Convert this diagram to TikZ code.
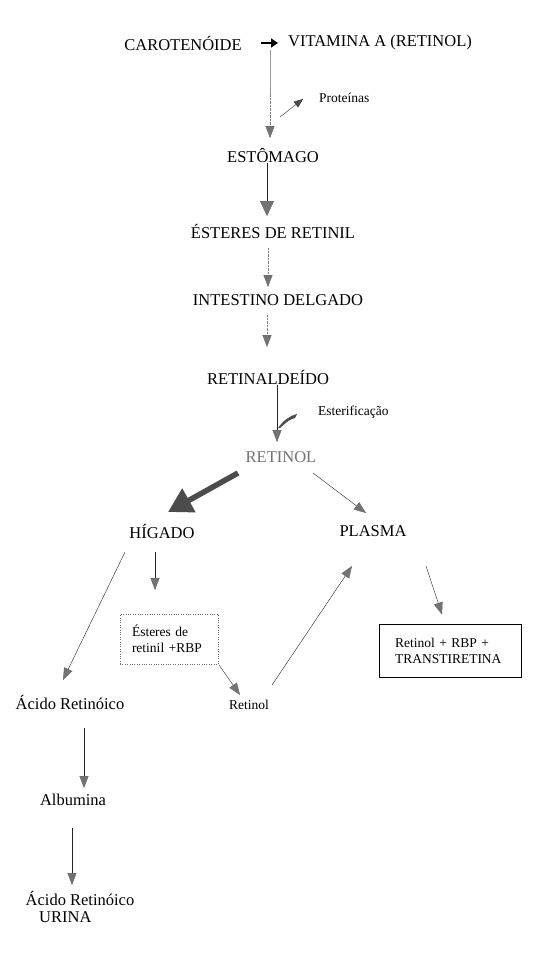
\documentclass[tikz,border=0pt]{standalone}
\usepackage{fontspec}
\setmainfont{Liberation Serif}
\usetikzlibrary{arrows.meta}
\tikzset{
  big/.style={inner sep=0pt, font=\fontsize{16.5}{19}\selectfont},
  small/.style={inner sep=0pt, font=\fontsize{13.5}{16}\selectfont},
  flow/.style={draw=black!85, -{Triangle[width=9pt,length=12pt,fill=black!55,color=black!60]}},
  dotflow/.style={flow, draw=black!50, densely dotted},
  note/.style={small, draw, align=left, inner ysep=5pt}
}
\begin{document}
\begin{tikzpicture}[x=1pt,y=-1pt]
    \useasboundingbox[fill=white] (0,0) rectangle (548,953);
    % top of the chain
    \node[big] (carot) at (183,43) {CAROTENÓIDE};
    \node[big] (vita) at (380,43) {VITAMINA A (RETINOL)};
    \draw[line width=2.4pt, -{Triangle[width=9pt,length=7pt]}] ([xshift=78]carot.center) -- ([xshift=-102]vita.center);
    \node[big] (estom) at (273,155) {ESTÔMAGO};
    \coordinate (mid1) at (270,95);
    \draw[draw=black!40] ([xshift=-110,yshift=-7]vita.center) -- (mid1);
    \draw[dotflow] (mid1) -- ([xshift=-3,yshift=17]estom.center);
    \node[small, anchor=west] (prot) at (319,98) {Proteínas};
    \coordinate (p0) at (280,117);
    \draw[flow, -{Triangle[width=7pt,length=9pt,fill=black!70]}] (p0) -- ([xshift=-16,yshift=-1]prot.west);
    \node[big] (ester) at (273,231) {ÉSTERES DE RETINIL};
    \draw[flow, -{Triangle[width=14pt,length=15pt,fill=black!55,color=black!60]}] ([xshift=-6,yshift=-8]estom.center) -- ([xshift=-6,yshift=15]ester.center);
    \node[big] (intest) at (278,300) {INTESTINO DELGADO};
    \draw[dotflow] ([xshift=-5,yshift=-17]ester.center) -- ([xshift=-10,yshift=13]intest.center);
    \node[big] (retald) at (268,377) {RETINALDEÍDO};
    \draw[dotflow] ([xshift=-11,yshift=-15]intest.center) -- ([xshift=-1,yshift=30]retald.center);
    \node[big, text=black!55] (retinol) at (281,457) {RETINOL};
    \draw[flow] ([xshift=9,yshift=-8]retald.center) -- ([xshift=-4,yshift=15]retinol.center);
    \node[small, anchor=west] (esterif) at (318,412) {Esterificação};
    \fill[black!70] (278,428) .. controls (283,421) and (289,416) .. (297,414) -- (295,418) .. controls (289,420) .. (280,428) -- cycle;
    % liver and plasma
    \node[big] (figado) at (162,531) {HÍGADO};
    \node[big] (plasma) at (373,531) {PLASMA};
    \draw[line width=5.5pt, black!70, -{Triangle[width=26pt,length=24pt]}] ([xshift=-43,yshift=-16]retinol.center) -- ([xshift=6,yshift=19]figado.center);
    \draw[flow] ([xshift=32,yshift=-16]retinol.center) -- ([xshift=-7,yshift=18]plasma.center);
    \node[note, dotted, draw=black!60, inner xsep=12pt, text width=74pt, minimum height=50pt] (rbp) at (169,639) {Ésteres de\\retinil +RBP};
    \node[note, inner xsep=16pt, text width=110pt, minimum height=53pt] (ttr) at (450,650.5) {Retinol + RBP +\\TRANSTIRETINA};
    \node[small] (retsm) at (249,705) {Retinol};
    \draw[flow] ([xshift=-7,yshift=-21]figado.center) -- ([xshift=-14,yshift=49]rbp.center);
    \draw[flow] ([xshift=1,yshift=-1]rbp.south east) -- ([xshift=-9,yshift=10]retsm.center);
    \draw[flow] ([xshift=23,yshift=20]retsm.center) -- ([xshift=-21,yshift=-35]plasma.center);
    \draw[flow] ([xshift=53,yshift=-35]plasma.center) -- ([xshift=-8,yshift=36]ttr.center);
    % acid branch
    \node[big] (acido) at (70,702) {Ácido Retinóico};
    \node[big] (albu) at (73,800) {Albumina};
    \node[big] (acido2) at (80,898) {Ácido Retinóico};
    \node[big, anchor=west] (urina) at (39,917) {URINA};
    \draw[flow] ([xshift=-37,yshift=-21]figado.center) -- ([xshift=-7,yshift=22]acido.center);
    \draw[flow] ([xshift=14,yshift=-26]acido.center) -- ([xshift=11,yshift=12]albu.center);
    \draw[flow] ([xshift=-1,yshift=-28]albu.center) -- ([xshift=-8,yshift=13]acido2.center);
\end{tikzpicture}
\end{document}
